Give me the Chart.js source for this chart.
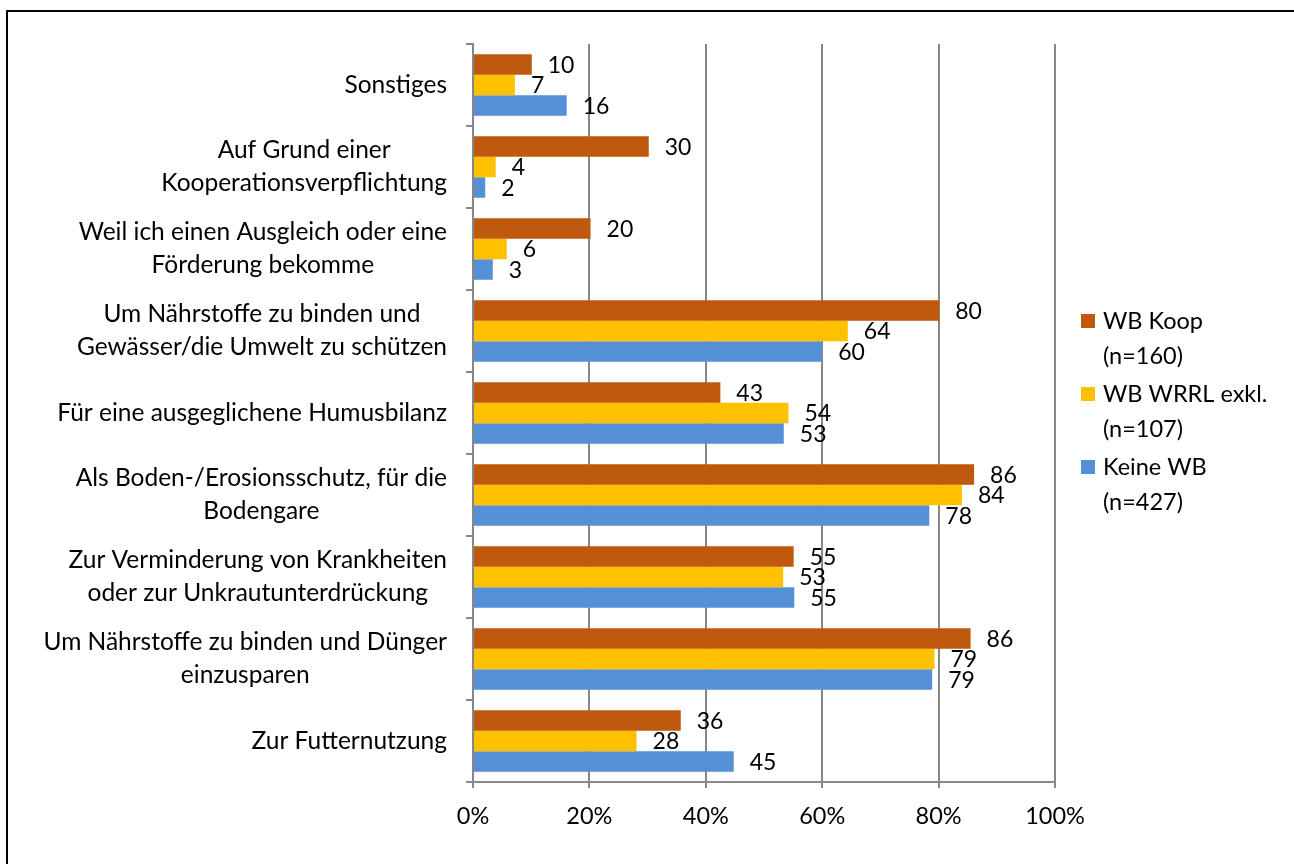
<!DOCTYPE html>
<html>
<head>
<meta charset="utf-8">
<script src="https://cdn.jsdelivr.net/npm/chart.js@4/dist/chart.umd.min.js"></script>
<style>
  html, body { margin: 0; padding: 0; background: #fff; }
  #wrap { position: relative; width: 1294px; height: 864px; overflow: hidden; }
  #frame { position: absolute; left: 6px; top: 10px; width: 1300px; height: 900px; border: 2px solid #000; box-sizing: border-box; }
  canvas { position: absolute; left: 0; top: 0; }
</style>
</head>
<body>
<div id="wrap">
  <div id="frame"></div>
  <canvas id="chart" width="1294" height="864"></canvas>
</div>
<script>
// ---- data (top to bottom) ----
const categories = [
  ["Sonstiges"],
  ["Auf Grund einer", "Kooperationsverpflichtung"],
  ["Weil ich einen Ausgleich oder eine", "Förderung bekomme"],
  ["Um Nährstoffe zu binden und", "Gewässer/die Umwelt zu schützen"],
  ["Für eine ausgeglichene Humusbilanz"],
  ["Als Boden-/Erosionsschutz, für die", "Bodengare"],
  ["Zur Verminderung von Krankheiten", "oder zur Unkrautunterdrückung"],
  ["Um Nährstoffe zu binden und Dünger", "einzusparen"],
  ["Zur Futternutzung"]
];
const wbKoop  = [10.1, 30.2, 20.2, 80.1, 42.5, 86.1, 55.1, 85.5, 35.7];
const wbWrrl  = [7.2, 3.9, 5.8, 64.4, 54.2, 84.0, 53.3, 79.3, 28.1];
const keineWb = [16.1, 2.1, 3.4, 60.0, 53.4, 78.4, 55.2, 78.9, 44.8];
const seriesNames = [["WB Koop", "(n=160)"], ["WB WRRL exkl.", "(n=107)"], ["Keine WB", "(n=427)"]];
const xTicks = [0, 20, 40, 60, 80, 100];

const FONT = "Lato, 'Open Sans', sans-serif";
const GRID = "#878787";
const colors = ["#BE590E", "#FFC000", "#5590D6"];

// category labels: block right-aligned, lines centered
const catLabels = {
  id: "catLabels",
  afterDraw(chart) {
    const { ctx, scales: { y } } = chart;
    ctx.save();
    ctx.font = "24.5px " + FONT;
    ctx.fillStyle = "#000";
    ctx.textAlign = "center";
    ctx.textBaseline = "middle";
    const right = 447, lh = 33;
    categories.forEach((lines, i) => {
      const cy = y.getPixelForValue(i);
      const w = Math.max(...lines.map(l => ctx.measureText(l).width));
      const cx = right - w / 2;
      lines.forEach((l, k) => {
        ctx.fillText(l, cx, cy + (k - (lines.length - 1) / 2) * lh);
      });
    });
    ctx.restore();
  }
};

// value labels right of bars
const valueLabels = {
  id: "valueLabels",
  afterDatasetsDraw(chart) {
    const { ctx } = chart;
    ctx.save();
    ctx.font = "23px " + FONT;
    ctx.fillStyle = "#000";
    ctx.textAlign = "left";
    ctx.textBaseline = "middle";
    chart.data.datasets.forEach((ds, di) => {
      chart.getDatasetMeta(di).data.forEach((bar, i) => {
        ctx.fillText(String(Math.round(ds.data[i])), bar.x + 16, bar.y + 1);
      });
    });
    ctx.restore();
  }
};

// legend on the right, two-line entries
const sideLegend = {
  id: "sideLegend",
  afterDraw(chart) {
    const { ctx } = chart;
    ctx.save();
    ctx.font = "23.5px " + FONT;
    ctx.textAlign = "left";
    ctx.textBaseline = "middle";
    seriesNames.forEach((lines, i) => {
      const y0 = 321 + i * 73;
      ctx.fillStyle = colors[i];
      ctx.fillRect(1081, y0 - 7, 14, 14);
      ctx.fillStyle = "#000";
      lines.forEach((l, k) => ctx.fillText(l, 1103, y0 + k * 35));
    });
    ctx.restore();
  }
};

const PAD_LEFT = 0, PAD_TOP = 44, PAD_RIGHT = 239, PAD_BOTTOM = 20;

new Chart(document.getElementById("chart"), {
  type: "bar",
  data: {
    labels: categories.map(c => c.join(" ")),
    datasets: [
      { label: "WB Koop", data: wbKoop, backgroundColor: colors[0] },
      { label: "WB WRRL exkl.", data: wbWrrl, backgroundColor: colors[1] },
      { label: "Keine WB", data: keineWb, backgroundColor: colors[2] }
    ]
  },
  options: {
    indexAxis: "y",
    responsive: false,
    devicePixelRatio: 1,
    animation: false,
    layout: { padding: { left: PAD_LEFT, top: PAD_TOP, right: PAD_RIGHT, bottom: PAD_BOTTOM } },
    datasets: { bar: { categoryPercentage: 0.75, barPercentage: 1 } },
    plugins: { legend: { display: false }, tooltip: { enabled: false } },
    scales: {
      x: {
        min: 0, max: 100,
        afterBuildTicks: s => { s.ticks = xTicks.map(v => ({ value: v })); },
        afterFit: s => { s.height = 864 - 782 - PAD_BOTTOM; },
        grid: { color: GRID, lineWidth: 2, tickLength: 6 },
        border: { color: GRID, width: 2 },
        ticks: { color: "#000", font: { family: FONT, size: 23.5 }, padding: 14, callback: v => v + "%" }
      },
      y: {
        afterFit: s => { s.width = 473 - PAD_LEFT; },
        grid: { drawOnChartArea: false, offset: true, color: GRID, lineWidth: 2, tickLength: 7 },
        border: { color: GRID, width: 2 },
        ticks: { display: false }
      }
    }
  },
  plugins: [catLabels, valueLabels, sideLegend]
});
</script>
</body>
</html>
